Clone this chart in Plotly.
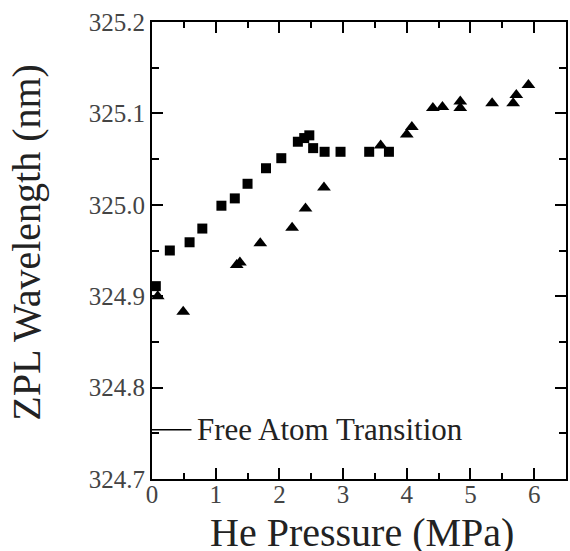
import plotly.graph_objects as go

# Data
sq_x = [0.06, 0.28, 0.59, 0.79, 1.09, 1.30, 1.50, 1.79, 2.03, 2.29, 2.39, 2.47, 2.53, 2.71, 2.96, 3.41, 3.72]
sq_y = [324.911, 324.950, 324.959, 324.974, 324.999, 325.007, 325.023, 325.040, 325.051,
        325.069, 325.073, 325.076, 325.062, 325.058, 325.058, 325.058, 325.058]

tri_x = [0.09, 0.49, 1.33, 1.38, 1.70, 2.20, 2.41, 2.70, 3.59, 4.00, 4.08, 4.41, 4.56,
         4.84, 4.84, 5.34, 5.67, 5.72, 5.91]
tri_y = [324.900, 324.883, 324.934, 324.937, 324.958, 324.975, 324.996, 325.019, 325.065,
         325.077, 325.085, 325.106, 325.107, 325.106, 325.113, 325.111, 325.111, 325.120, 325.131]

free_atom_y = 324.754
free_atom_x = [0.0, 0.62]
free_atom_label = "Free Atom Transition"

x_range = [0, 6.5]
y_range = [324.7, 325.2]
x_ticks = [0, 1, 2, 3, 4, 5, 6]
x_tick_labels = ["0", "1", "2", "3", "4", "5", "6"]
x_minor_ticks = [0.5, 1.5, 2.5, 3.5, 4.5, 5.5]
y_ticks = [324.7, 324.8, 324.9, 325.0, 325.1, 325.2]
y_tick_labels = ["324.7", "324.8", "324.9", "325.0", "325.1", "325.2"]
y_minor_ticks = [324.75, 324.85, 324.95, 325.05, 325.15]

FONT = "Liberation Serif"

fig = go.Figure()
fig.add_trace(go.Scatter(x=free_atom_x, y=[free_atom_y] * len(free_atom_x), mode="lines",
                         line=dict(color="black", width=1.5), showlegend=False, hoverinfo="skip"))
fig.add_trace(go.Scatter(x=sq_x, y=sq_y, mode="markers",
                         marker=dict(symbol="square", size=10, color="black"), showlegend=False))
fig.add_trace(go.Scatter(x=tri_x, y=tri_y, mode="markers",
                         marker=dict(symbol="triangle-up", size=12, color="black"), showlegend=False))

fig.add_annotation(x=0.68, y=free_atom_y, xref="x", yref="y", text=free_atom_label,
                   showarrow=False, xanchor="left", yanchor="middle",
                   font=dict(family=FONT, size=31, color="#222"))

fig.add_annotation(x=0.507, y=-0.118, xref="paper", yref="paper", text="He Pressure (MPa)",
                   showarrow=False, xanchor="center", yanchor="middle",
                   font=dict(family=FONT, size=40, color="#222"))
fig.add_annotation(x=-0.302, y=0.519, xref="paper", yref="paper", text="ZPL Wavelength (nm)",
                   showarrow=False, xanchor="center", yanchor="middle", textangle=-90,
                   font=dict(family=FONT, size=40, color="#222"))

axis_common = dict(showgrid=False, zeroline=False, showline=True, linecolor="black", linewidth=2,
                   mirror="allticks", ticks="inside", tickcolor="black", tickwidth=2, ticklen=11,
                   tickfont=dict(family=FONT, size=25, color="#444"))

fig.update_layout(
    xaxis=dict(range=x_range, tickmode="array", tickvals=x_ticks, ticktext=x_tick_labels,
               ticklabelstandoff=-8,
               minor=dict(tickmode="array", tickvals=x_minor_ticks, ticks="inside", ticklen=6,
                          tickwidth=2, tickcolor="black", showgrid=False),
               **axis_common),
    yaxis=dict(range=y_range, tickmode="array", tickvals=y_ticks, ticktext=y_tick_labels,
               minor=dict(tickmode="array", tickvals=y_minor_ticks, ticks="inside", ticklen=7,
                          tickwidth=2, tickcolor="black", showgrid=False),
               **axis_common),
    width=570, height=551, margin=dict(l=152, r=2, t=22, b=72),
    plot_bgcolor="white", paper_bgcolor="white",
)

fig.write_html("out.html", config={"displayModeBar": False},
               post_script="document.body.style.margin='0px';")
